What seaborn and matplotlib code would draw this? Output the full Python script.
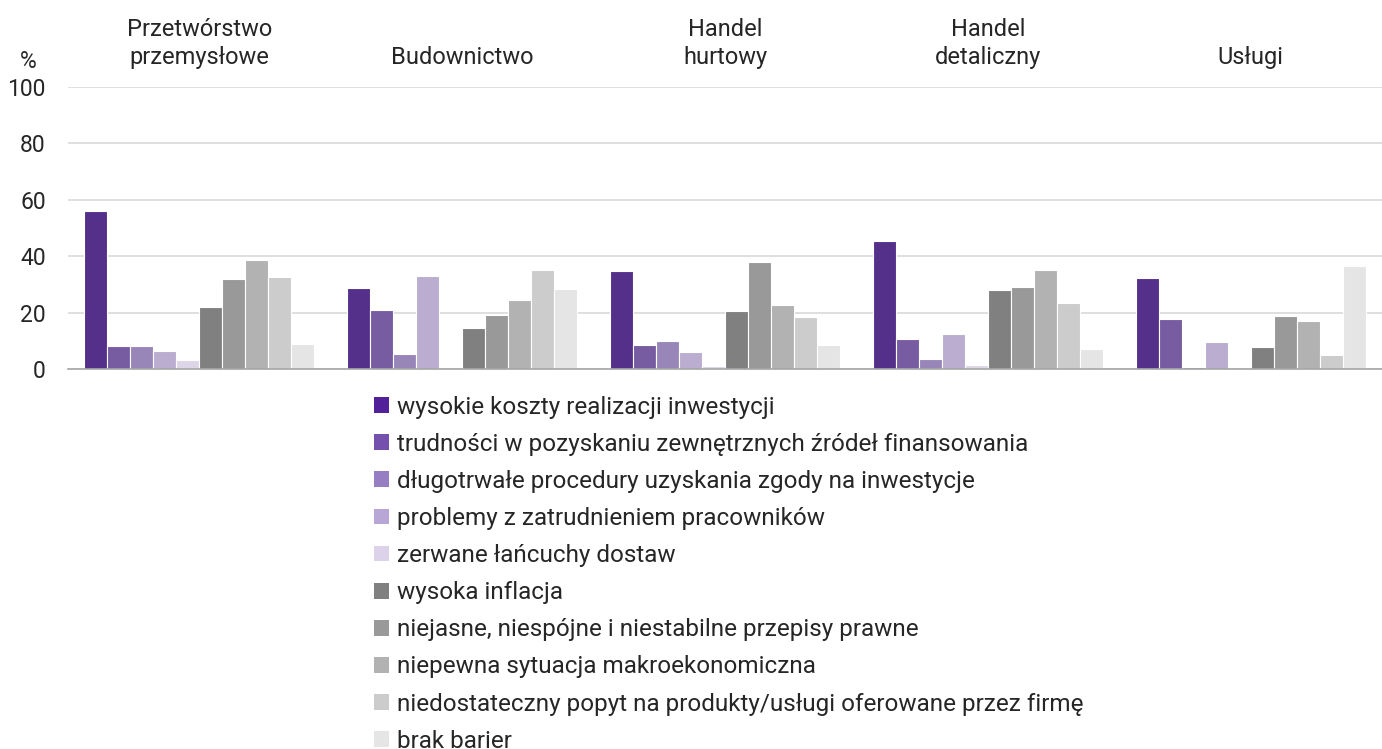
import pandas as pd
import matplotlib
matplotlib.use("Agg")
import matplotlib.pyplot as plt
import seaborn as sns
from matplotlib.patches import Patch

sns.set_theme(style="white")
plt.rcParams['font.family'] = ['Roboto', 'DejaVu Sans']

# --- dane ---
sectors = ["Przetwórstwo\nprzemysłowe", "Budownictwo", "Handel\nhurtowy",
           "Handel\ndetaliczny", "Usługi"]

barriers = [
    "wysokie koszty realizacji inwestycji",
    "trudności w pozyskaniu zewnętrznych źródeł finansowania",
    "długotrwałe procedury uzyskania zgody na inwestycje",
    "problemy z zatrudnieniem pracowników",
    "zerwane łańcuchy dostaw",
    "wysoka inflacja",
    "niejasne, niespójne i niestabilne przepisy prawne",
    "niepewna sytuacja makroekonomiczna",
    "niedostateczny popyt na produkty/usługi oferowane przez firmę",
    "brak barier",
]

przetworstwo = [56.0, 8.3, 8.0, 6.5, 3.3, 22.1, 31.9, 38.5, 32.6, 8.9]
budownictwo = [28.8, 21.0, 5.2, 33.1, 0.0, 14.6, 19.1, 24.4, 35.2, 28.5]
hurt = [34.9, 8.5, 10.0, 6.2, 0.9, 20.7, 38.1, 22.6, 18.5, 8.5]
detal = [45.5, 10.8, 3.4, 12.4, 1.5, 27.9, 29.2, 35.2, 23.3, 7.2]
uslugi = [32.4, 17.9, 0.8, 9.7, 0.0, 7.8, 18.7, 17.1, 5.0, 36.7]

colors = ["#52219a", "#7650ad", "#977dc1", "#b8a7d6", "#dcd3eb",
          "#808080", "#999999", "#b2b2b2", "#cccccc", "#e5e5e5"]

# --- tabela długa ---
rows = []
for sector, vals in zip(sectors, [przetworstwo, budownictwo, hurt, detal, uslugi]):
    for b, v in zip(barriers, vals):
        rows.append({"sektor": sector, "bariera": b, "proc": v})
df = pd.DataFrame(rows)

fig = plt.figure(figsize=(13.82, 7.49), dpi=100)
ax = fig.add_axes([68 / 1382, 1 - 369 / 749, 1 - 68 / 1382, (369 - 87) / 749])

sns.barplot(data=df, x="sektor", y="proc", hue="bariera", order=sectors,
            hue_order=barriers, palette=colors, width=0.875,
            edgecolor="white", linewidth=0.8, legend=False, ax=ax)

ax.set_ylim(0, 100)
ax.set_xlim(-0.5, 4.5)
ax.set_yticks([0, 20, 40, 60, 80, 100])
ax.yaxis.grid(True, color="#d9d9d9", linewidth=1.2)
ax.set_axisbelow(True)
ax.set_xlabel("")
ax.set_ylabel("")
for s in ["top", "right", "left"]:
    ax.spines[s].set_visible(False)
ax.spines["bottom"].set_color("#a6a6a6")
ax.spines["bottom"].set_linewidth(1.2)

ax.xaxis.tick_top()
ax.tick_params(axis="x", length=0, pad=13, labelsize=17)
ax.tick_params(axis="y", length=0, pad=16, labelsize=16.5)
for lbl in ax.get_xticklabels():
    lbl.set_linespacing(1.3)

fig.text(28 / 1382, 1 - 62 / 749, "%", fontsize=16.5, ha="center", va="center")

handles = [Patch(facecolor=c, edgecolor="none") for c in colors]
fig.legend(handles, barriers, loc="upper left",
           bbox_to_anchor=(364 / 1382, 1 - 386 / 749), frameon=False,
           fontsize=17.5, handlelength=0.62, handleheight=0.62,
           handletextpad=0.35, labelspacing=0.58, borderaxespad=0)

plt.savefig("out.png", dpi=100)
